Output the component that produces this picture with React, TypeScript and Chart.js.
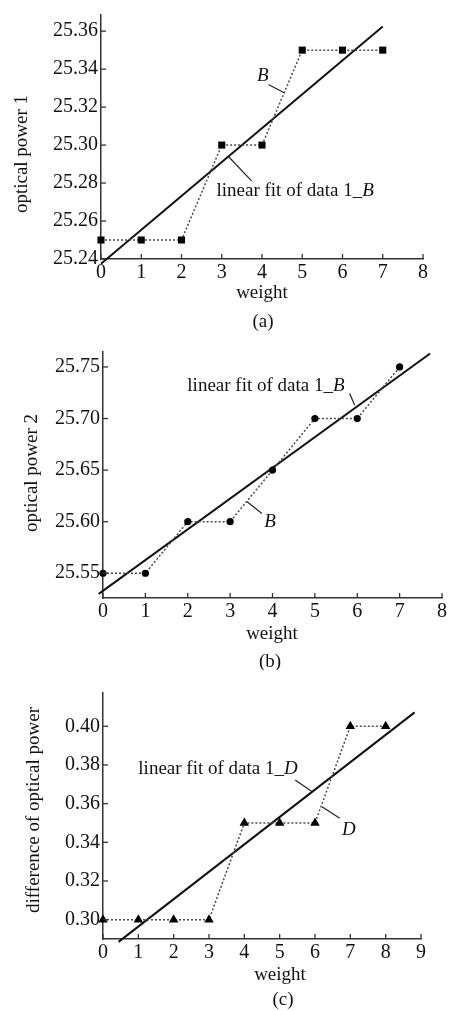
import React, { useEffect, useRef } from "react";
import { Chart, registerables } from "chart.js";

Chart.register(...registerables);

// ---------- data (a) ----------
const aX = [0, 1, 2, 3, 4, 5, 6, 7];
const aY = [25.25, 25.25, 25.25, 25.3, 25.3, 25.35, 25.35, 25.35];
const aFitX = [0, 7];
const aFitY = [25.2375, 25.3625];
const aXTicks = [0, 1, 2, 3, 4, 5, 6, 7, 8];
const aYTicks = [25.24, 25.26, 25.28, 25.3, 25.32, 25.34, 25.36];

// ---------- data (b) ----------
const bX = [0, 1, 2, 3, 4, 5, 6, 7];
const bY = [25.55, 25.55, 25.6, 25.6, 25.65, 25.7, 25.7, 25.75];
const bFitX = [-0.1, 7.72];
const bFitY = [25.530, 25.763];
const bXTicks = [0, 1, 2, 3, 4, 5, 6, 7, 8];
const bYTicks = [25.55, 25.6, 25.65, 25.7, 25.75];

// ---------- data (c) ----------
const cX = [0, 1, 2, 3, 4, 5, 6, 7, 8];
const cY = [0.3, 0.3, 0.3, 0.3, 0.35, 0.35, 0.35, 0.4, 0.4];
const cFitX = [0.44, 8.82];
const cFitY = [0.2885, 0.4072];
const cXTicks = [0, 1, 2, 3, 4, 5, 6, 7, 8, 9];
const cYTicks = [0.3, 0.32, 0.34, 0.36, 0.38, 0.4];

const FONT = '"Liberation Serif", "Times New Roman", serif';
const TEXT = "#111";
const AXIS = "#333";
const W = 449;
const XH = 30;

const zip = (xs: number[], ys: number[]) => xs.map((x, i) => ({ x, y: ys[i] }));

const extrasPlugin = {
  id: "extras",
  afterDraw(chart: any, _args: any, opts: any) {
    const { ctx, chartArea } = chart;
    const xs = chart.scales.x;
    const ys = chart.scales.y;
    ctx.save();
    const line = (x1: number, y1: number, x2: number, y2: number) => {
      ctx.beginPath();
      ctx.moveTo(x1, y1);
      ctx.lineTo(x2, y2);
      ctx.stroke();
    };
    // inward ticks
    ctx.strokeStyle = AXIS;
    ctx.lineWidth = 1.3;
    xs.ticks.forEach((t: any) => {
      const px = xs.getPixelForValue(t.value);
      line(px, chartArea.bottom, px, chartArea.bottom - 5);
    });
    ys.ticks.forEach((t: any) => {
      const py = ys.getPixelForValue(t.value);
      line(chartArea.left, py, chartArea.left + 5, py);
    });
    // leader lines
    ctx.strokeStyle = "#222";
    ctx.lineWidth = 1.2;
    (opts.leaders || []).forEach((l: number[]) => {
      line(xs.getPixelForValue(l[0]), ys.getPixelForValue(l[1]), xs.getPixelForValue(l[2]), ys.getPixelForValue(l[3]));
    });
    // annotation labels
    ctx.fillStyle = TEXT;
    ctx.textBaseline = "middle";
    ctx.textAlign = "left";
    (opts.labels || []).forEach((lb: any) => {
      const fonts = lb.parts.map((p: any) => `${p.italic ? "italic " : ""}19px ${FONT}`);
      let total = 0;
      const widths = lb.parts.map((p: any, i: number) => {
        ctx.font = fonts[i];
        const w = ctx.measureText(p.t).width;
        total += w;
        return w;
      });
      let px = xs.getPixelForValue(lb.x);
      const py = ys.getPixelForValue(lb.y);
      if (lb.align === "center") px -= total / 2;
      lb.parts.forEach((p: any, i: number) => {
        ctx.font = fonts[i];
        ctx.fillText(p.t, px, py);
        px += widths[i];
      });
    });
    // titles
    ctx.textAlign = "center";
    ctx.font = `19px ${FONT}`;
    const xt = opts.xTitle;
    ctx.fillText(xt.text, xt.x, xt.y);
    const cp = opts.caption;
    ctx.fillText(cp.text, cp.x, cp.y);
    const yt = opts.yTitle;
    ctx.translate(yt.x, yt.y);
    ctx.rotate(-Math.PI / 2);
    ctx.fillText(yt.text, 0, 0);
    ctx.restore();
  },
};

function makeConfig(p: any) {
  const area = p.area;
  return {
    type: "scatter",
    data: {
      datasets: [
        {
          data: zip(p.dataX, p.dataY),
          showLine: true,
          borderColor: "#4a4a4a",
          borderWidth: 1.5,
          borderDash: [2, 2],
          pointStyle: p.pointStyle,
          pointRadius: p.pointRadius,
          pointBackgroundColor: "#000",
          pointBorderColor: "#000",
          pointBorderWidth: 0,
          clip: false,
        },
        {
          data: zip(p.fitX, p.fitY),
          showLine: true,
          borderColor: "#111",
          borderWidth: 2,
          pointRadius: 0,
          clip: false,
        },
      ],
    },
    options: {
      responsive: false,
      animation: false,
      devicePixelRatio: 1,
      events: [],
      layout: {
        padding: { left: 0, top: area.top, right: W - area.right, bottom: p.height - area.bottom - XH },
      },
      plugins: {
        legend: { display: false },
        tooltip: { enabled: false },
        extras: p.extras,
      },
      scales: {
        x: {
          type: "linear",
          min: p.xRange[0],
          max: p.xRange[1],
          grid: { display: false, drawTicks: false },
          border: { display: true, color: AXIS, width: 1.5 },
          ticks: {
            autoSkip: false,
            padding: 2,
            color: TEXT,
            font: { family: FONT, size: 20 },
            callback: (v: number) => String(v),
          },
          afterBuildTicks: (s: any) => {
            s.ticks = p.xTicks.map((v: number) => ({ value: v }));
          },
          afterFit: (s: any) => {
            s.height = XH;
          },
        },
        y: {
          type: "linear",
          min: p.yRange[0],
          max: p.yRange[1],
          grid: { display: false, drawTicks: false },
          border: { display: true, color: AXIS, width: 1.5 },
          ticks: {
            autoSkip: false,
            padding: 3,
            color: TEXT,
            font: { family: FONT, size: 20 },
            callback: (v: number) => v.toFixed(2),
          },
          afterBuildTicks: (s: any) => {
            s.ticks = p.yTicks.map((v: number) => ({ value: v }));
          },
          afterFit: (s: any) => {
            s.width = area.left;
          },
        },
      },
    },
    plugins: [extrasPlugin],
  };
}

const panels = [
  {
    top: 0,
    height: 335,
    area: { left: 101, right: 423, top: 12, bottom: 259 },
    xRange: [0, 8],
    yRange: [25.24, 25.3685],
    dataX: aX,
    dataY: aY,
    fitX: aFitX,
    fitY: aFitY,
    xTicks: aXTicks,
    yTicks: aYTicks,
    pointStyle: "rect",
    pointRadius: 5,
    extras: {
      xTitle: { text: "weight", x: 262, y: 293 },
      caption: { text: "(a)", x: 263, y: 322 },
      yTitle: { text: "optical power 1", x: 22, y: 154 },
      labels: [
        { parts: [{ t: "B", italic: true }], x: 4.02, y: 25.3363, align: "center" },
        {
          parts: [{ t: "linear fit of data 1_" }, { t: "B", italic: true }],
          x: 2.87,
          y: 25.2759,
          align: "left",
        },
      ],
      leaders: [
        [4.16, 25.3319, 4.55, 25.3276],
        [3.74, 25.2811, 3.16, 25.2941],
      ],
    },
  },
  {
    top: 335,
    height: 335,
    area: { left: 103, right: 445, top: 17, bottom: 263 },
    xRange: [0, 8],
    yRange: [25.526, 25.7645],
    dataX: bX,
    dataY: bY,
    fitX: bFitX,
    fitY: bFitY,
    xTicks: bXTicks,
    yTicks: bYTicks,
    pointStyle: "circle",
    pointRadius: 3.6,
    extras: {
      xTitle: { text: "weight", x: 272, y: 299 },
      caption: { text: "(b)", x: 270, y: 327 },
      yTitle: { text: "optical power 2", x: 32, y: 138 },
      labels: [
        {
          parts: [{ t: "linear fit of data 1_" }, { t: "B", italic: true }],
          x: 1.99,
          y: 25.7313,
          align: "left",
        },
        { parts: [{ t: "B", italic: true }], x: 3.94, y: 25.6001, align: "center" },
      ],
      leaders: [
        [5.82, 25.7242, 5.94, 25.7129],
        [3.4, 25.6193, 3.75, 25.608],
      ],
    },
  },
  {
    top: 670,
    height: 341,
    area: { left: 103, right: 421, top: 23, bottom: 269 },
    xRange: [0, 9],
    yRange: [0.29, 0.4172],
    dataX: cX,
    dataY: cY,
    fitX: cFitX,
    fitY: cFitY,
    xTicks: cXTicks,
    yTicks: cYTicks,
    pointStyle: "triangle",
    pointRadius: 5.5,
    extras: {
      xTitle: { text: "weight", x: 280, y: 305 },
      caption: { text: "(c)", x: 283, y: 330 },
      yTitle: { text: "difference of optical power", x: 34, y: 140 },
      labels: [
        {
          parts: [{ t: "linear fit of data 1_" }, { t: "D", italic: true }],
          x: 1.0,
          y: 0.3778,
          align: "left",
        },
        { parts: [{ t: "D", italic: true }], x: 6.96, y: 0.3466, align: "center" },
      ],
      leaders: [
        [5.44, 0.3722, 5.92, 0.3661],
        [6.2, 0.3584, 6.7, 0.3524],
      ],
    },
  },
];

function Panel({ p }: { p: any }) {
  const ref = useRef<HTMLCanvasElement | null>(null);
  useEffect(() => {
    if (!ref.current) return;
    const chart = new Chart(ref.current, makeConfig(p) as any);
    return () => chart.destroy();
  }, []);
  return (
    <canvas
      ref={ref}
      width={W}
      height={p.height}
      style={{ position: "absolute", left: 0, top: p.top, width: W, height: p.height, display: "block" }}
    />
  );
}

export default function App() {
  return (
    <div style={{ position: "absolute", left: 0, top: 0, width: W, height: 1011, background: "#fff", overflow: "hidden" }}>
      {panels.map((p, i) => (
        <Panel key={i} p={p} />
      ))}
    </div>
  );
}
